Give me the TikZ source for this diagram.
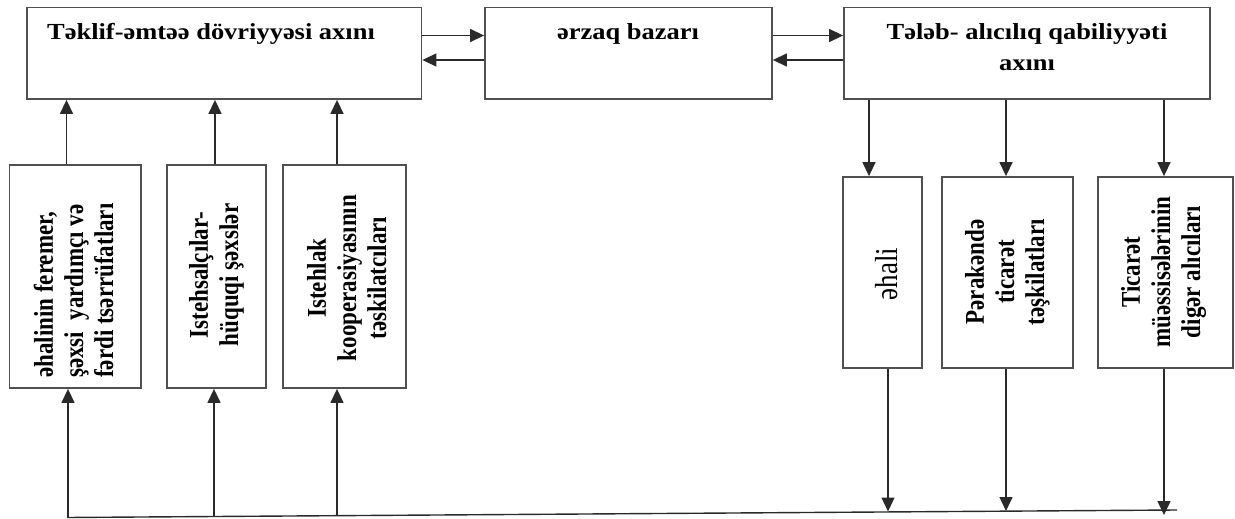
\documentclass[tikz,border=0pt]{standalone}
\usepackage{fontspec}
\setmainfont{Liberation Serif}
\usepackage{graphicx}
\usetikzlibrary{arrows.meta}
\definecolor{boxgray}{HTML}{505050}
\definecolor{linegray}{HTML}{2A2A2A}
\newcommand\hs[1]{\scalebox{1.15}[1]{#1}}
\newcommand\vs[1]{\scalebox{1}[1.18]{#1}}
\begin{document}
\begin{tikzpicture}[x=1pt,y=-1pt,
  box/.style={draw=boxgray, line width=1.8pt, inner sep=0pt, fill=white},
  conn/.style={draw=linegray, line width=1.4pt, -{Triangle[length=14pt,width=13pt]}},
  plain/.style={draw=linegray, line width=1.4pt},
  htxt/.style={inner sep=0pt, font=\bfseries\fontsize{23}{31}\selectfont},
  vtxt/.style={inner sep=0pt, rotate=90, font=\bfseries\fontsize{23}{25.5}\selectfont},
  vreg/.style={inner sep=0pt, rotate=90, font=\fontsize{27}{26}\selectfont}]
\useasboundingbox (0,0) rectangle (1235,519);
% boxes
\node[box, minimum width=394.5pt, minimum height=91.5pt] (box1) at (224.25,53.25) {};
\node[box, minimum width=287pt, minimum height=91.5pt] (box2) at (628.5,53.25) {};
\node[box, minimum width=366pt, minimum height=91.5pt] (box3) at (1027,53.25) {};
\node[box, minimum width=131.5pt, minimum height=223pt] (b1) at (75.25,276.5) {};
\node[box, minimum width=99pt, minimum height=223pt] (b2) at (216.5,276.5) {};
\node[box, minimum width=123pt, minimum height=223pt] (b3) at (344.5,276.5) {};
\node[box, minimum width=79pt, minimum height=191pt] (r1) at (882.5,272.5) {};
\node[box, minimum width=131pt, minimum height=191pt] (r2) at (1007.5,272.5) {};
\node[box, minimum width=135pt, minimum height=191pt] (r3) at (1165.5,272.5) {};
% texts
\node[htxt, anchor=base west] (t1) at (47,39.5) {\hs{Təklif-əmtəə dövriyyəsi axını}};
\node[htxt, anchor=base] (t2) at (628,39.5) {\hs{ərzaq bazarı}};
\node[htxt, anchor=base] (t3) at (1027,39.5) {\hs{\begin{tabular}[t]{@{}c@{}}Tələb- alıcılıq qabiliyyəti\\ axını\end{tabular}}};
\node[vtxt, anchor=west] (tb1) at (77,378) {\vs{\begin{tabular}{@{}l@{}}əhalinin feremer,\\ şəxsi~ yardımçı və\\ fərdi tsərrüfatları\end{tabular}}};
\node[vtxt] (tb2) at (217,275) {\vs{\begin{tabular}{@{}c@{}}Istehsalçılar-\\ hüquqi şəxslər\end{tabular}}};
\node[vtxt] (tb3) at (350,278) {\vs{\begin{tabular}{@{}c@{}}Istehlak\\ kooperasiyasının\\ təskilatcıları\end{tabular}}};
\node[vreg] (tr1) at (887,274) {\vs{əhali}};
\node[vtxt] (tr2) at (1008,272) {\vs{\begin{tabular}{@{}c@{}}Pərakəndə\\ ticarət\\ təşkilatları\end{tabular}}};
\node[vtxt] (tr3) at (1164,272) {\vs{\begin{tabular}{@{}c@{}}Ticarət\\ müəssisələrinin\\ digər alıcıları\end{tabular}}};
% helper coordinates
\coordinate (ya) at (0,35.5);
\coordinate (yb) at (0,60);
\coordinate (x1) at (66.5,0);
\coordinate (x2) at (215,0);
\coordinate (x3) at (337,0);
\coordinate (x4) at (869,0);
\coordinate (x5) at (1006,0);
\coordinate (x6) at (1164,0);
\coordinate (L0) at (67,517.5);
\coordinate (L1) at (1177,510);
\coordinate (j1) at (68,517.5);
\coordinate (j2) at (214,516.6);
\coordinate (j3) at (337,515.8);
\coordinate (k1) at (888,511.5);
\coordinate (k2) at (1006,511);
\coordinate (k3) at (1164,515);
% horizontal connectors
\draw[conn] (box1.east |- ya) -- (box2.west |- ya);
\draw[conn] (box2.west |- yb) -- (box1.east |- yb);
\draw[conn] (box2.east |- ya) -- (box3.west |- ya);
\draw[conn] (box3.west |- yb) -- (box2.east |- yb);
% up to box1
\draw[conn] (b1.north -| x1) -- (box1.south -| x1);
\draw[conn] (b2.north -| x2) -- (box1.south -| x2);
\draw[conn] (b3.north -| x3) -- (box1.south -| x3);
% down from box3
\draw[conn] (box3.south -| x4) -- (r1.north -| x4);
\draw[conn] (box3.south -| x5) -- (r2.north -| x5);
\draw[conn] (box3.south -| x6) -- (r3.north -| x6);
% bottom line
\draw[plain] (L0) -- (L1);
\draw[conn] (j1) -- (b1.south -| j1);
\draw[conn] (j2) -- (b2.south -| j2);
\draw[conn] (j3) -- (b3.south -| j3);
\draw[conn] (r1.south -| k1) -- (k1);
\draw[conn] (r2.south -| k2) -- (k2);
\draw[conn] (r3.south -| k3) -- (k3);
\end{tikzpicture}
\end{document}
